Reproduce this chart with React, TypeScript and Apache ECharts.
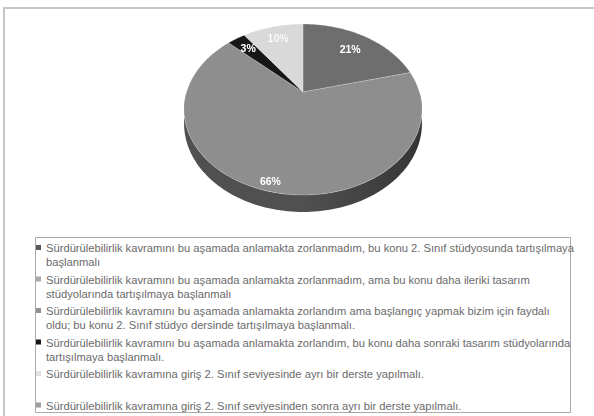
import React, { useEffect, useRef } from "react";
import * as echarts from "echarts";

const categories = [
  "Sürdürülebilirlik kavramını bu aşamada anlamakta zorlanmadım, bu konu 2. Sınıf stüdyosunda tartışılmaya başlanmalı",
  "Sürdürülebilirlik kavramını bu aşamada anlamakta zorlanmadım, ama bu konu daha ileriki tasarım stüdyolarında tartışılmaya başlanmalı",
  "Sürdürülebilirlik kavramını bu aşamada anlamakta zorlandım ama başlangıç yapmak bizim için faydalı oldu; bu konu 2. Sınıf stüdyo dersinde tartışılmaya başlanmalı.",
  "Sürdürülebilirlik kavramını bu aşamada anlamakta zorlandım, bu konu daha sonraki tasarım stüdyolarında tartışılmaya başlanmalı.",
  "Sürdürülebilirlik kavramına giriş 2. Sınıf seviyesinde ayrı bir derste yapılmalı.",
  "Sürdürülebilirlik kavramına giriş 2. Sınıf seviyesinden sonra ayrı bir derste yapılmalı.",
];

// legend display text, wrapped as in the original
const legendLabels = [
  "Sürdürülebilirlik kavramını bu aşamada anlamakta zorlanmadım, bu konu 2. Sınıf stüdyosunda tartışılmaya\nbaşlanmalı",
  "Sürdürülebilirlik kavramını bu aşamada anlamakta zorlanmadım, ama bu konu daha ileriki tasarım\nstüdyolarında tartışılmaya başlanmalı",
  "Sürdürülebilirlik kavramını bu aşamada anlamakta zorlandım ama başlangıç yapmak bizim için faydalı\noldu; bu konu 2. Sınıf stüdyo dersinde tartışılmaya başlanmalı.",
  "Sürdürülebilirlik kavramını bu aşamada anlamakta zorlandım, bu konu daha sonraki tasarım stüdyolarında\ntartışılmaya başlanmalı.",
  "Sürdürülebilirlik kavramına giriş 2. Sınıf seviyesinde ayrı bir derste yapılmalı.\n ",
  "Sürdürülebilirlik kavramına giriş 2. Sınıf seviyesinden sonra ayrı bir derste yapılmalı.\n ",
];

const values = [21, 66, 0, 3, 10, 0];

const topColors = ["#6e6e6e", "#8e8e8e", "#9a9a9a", "#171717", "#d9d9d9", "#a2a2a2"];
const sideColors = ["#4a4a4a", "#505050", "#666666", "#0a0a0a", "#a8a8a8", "#777777"];
const legendColors = ["#5a5a5a", "#a8a8a8", "#909090", "#151515", "#e2e2e2", "#9c9c9c"];
const labelRadius = [0.74, 0.92, 0.72, 0.8, 0.8, 0.72];

// projection of the tilted pie (perspective)
const CX = 303;
const CY = 92;
const RX = 116.4;
const RY = 81.9;
const DIST = 4.88;
const DEPTH = 13.5;

function proj(r: number, phi: number, drop = 0): number[] {
  const u = r * Math.cos(phi);
  const v = r * Math.sin(phi);
  const k = DIST / (DIST - v);
  return [CX + RX * u * k, CY + RY * v * k + drop * k];
}

export default function App() {
  const ref = useRef<HTMLDivElement>(null);

  useEffect(() => {
    if (!ref.current) return;
    const chart = echarts.init(ref.current, null, { renderer: "svg" });
    const total = values.reduce((a, b) => a + b, 0);
    const cumStart: number[] = [];
    let acc = 0;
    values.forEach((v) => {
      cumStart.push(acc);
      acc += v;
    });
    const labelMap: Record<string, string> = {};
    categories.forEach((c, i) => (labelMap[c] = legendLabels[i]));

    const renderItem = (params: any, api: any) => {
      const i = params.dataIndex;
      const v = api.value(0) as number;
      if (!v) return { type: "group", children: [] };
      const a0 = -Math.PI / 2 + (2 * Math.PI * cumStart[i]) / total;
      const a1 = a0 + (2 * Math.PI * v) / total;
      const steps = Math.max(2, Math.ceil((a1 - a0) / (Math.PI / 120)));
      const rim: number[][] = [];
      for (let j = 0; j <= steps; j++) rim.push(proj(1, a0 + ((a1 - a0) * j) / steps));
      const children: any[] = [];
      children.push({
        type: "polygon",
        z2: 10,
        shape: { points: [proj(0, 0), ...rim] },
        style: { fill: topColors[i], stroke: "rgba(255,255,255,0.35)", lineWidth: 0.6 },
      });
      const f0 = Math.max(a0, 0);
      const f1 = Math.min(a1, Math.PI);
      if (f1 > f0) {
        const n = Math.max(2, Math.ceil((f1 - f0) / (Math.PI / 120)));
        const upper: number[][] = [];
        const lower: number[][] = [];
        for (let j = 0; j <= n; j++) {
          const p = f0 + ((f1 - f0) * j) / n;
          upper.push(proj(1, p));
          lower.push(proj(1, p, DEPTH));
        }
        children.push({
          type: "polygon",
          z2: 1,
          shape: { points: [...upper, ...lower.reverse()] },
          style: {
            fill: new echarts.graphic.LinearGradient(0, 0, 1, 0, [
              { offset: 0, color: sideColors[i] },
              { offset: 0.5, color: sideColors[i] },
              { offset: 1, color: "#353535" },
            ]),
          },
        });
      }
      const mid = (a0 + a1) / 2;
      const lp = proj(labelRadius[i], mid);
      children.push({
        type: "text",
        z2: 20,
        x: lp[0],
        y: lp[1],
        style: {
          text: Math.round((v / total) * 100) + "%",
          fill: "#ffffff",
          font: "bold 10.5px 'Liberation Sans', Arial, sans-serif",
          align: "center",
          verticalAlign: "middle",
          textShadowColor: "rgba(0,0,0,0.35)",
          textShadowBlur: 1,
        },
      });
      return { type: "group", children };
    };

    chart.setOption({
      animation: false,
      backgroundColor: "#ffffff",
      graphic: [
        {
          type: "rect",
          z: -10,
          shape: { x: 4, y: 8, width: 640, height: 440 },
          style: { fill: "none", stroke: "#c6c6c6", lineWidth: 2 },
        },
        {
          type: "rect",
          z: -10,
          shape: { x: 35.5, y: 237.5, width: 535, height: 175 },
          style: { fill: "none", stroke: "#a9a9a9", lineWidth: 1 },
        },
      ],
      legend: {
        orient: "vertical",
        left: 36,
        top: 241,
        height: 220,
        padding: 0,
        itemGap: 3.5,
        itemWidth: 5,
        itemHeight: 28,
        icon: "path://M0,0L0.01,0ZM0,4H5V9H0ZM0,28L0.01,28Z",
        selectedMode: false,
        data: categories,
        formatter: (name: string) => labelMap[name] || name,
        textStyle: {
          fontSize: 11.2,
          lineHeight: 14,
          color: "#6a6a6a",
          fontFamily: "'Liberation Sans', Arial, sans-serif",
        },
      },
      series: [
        {
          type: "pie",
          silent: true,
          center: [-60, -60],
          radius: 2,
          label: { show: false },
          labelLine: { show: false },
          data: categories.map((c, i) => ({
            name: c,
            value: values[i],
            itemStyle: { color: legendColors[i] },
          })),
        },
        {
          type: "custom",
          coordinateSystem: "none",
          silent: true,
          data: values.map((v, i) => [v, i]),
          renderItem,
        },
      ],
    });
    return () => chart.dispose();
  }, []);

  return (
    <div
      ref={ref}
      style={{ position: "absolute", left: 0, top: 0, width: 594, height: 416 }}
    />
  );
}
